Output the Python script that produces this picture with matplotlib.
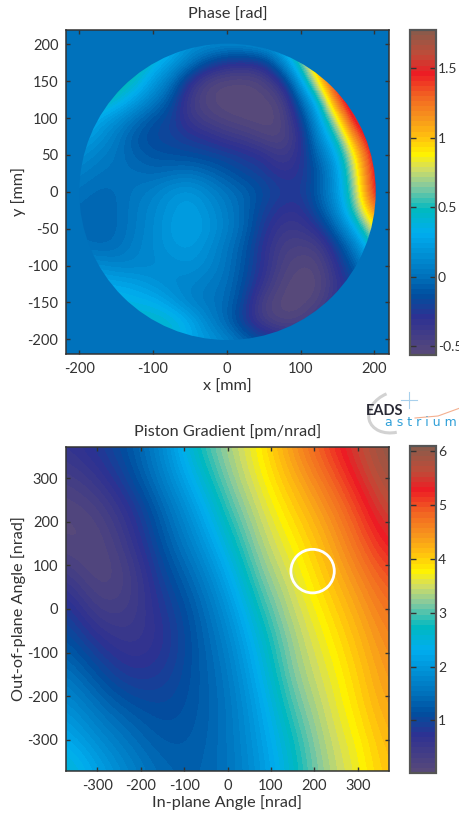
import numpy as np
import matplotlib
matplotlib.use("Agg")
import matplotlib.pyplot as plt
from matplotlib.colors import LinearSegmentedColormap
from matplotlib.patches import Circle, Arc

plt.rcParams['font.family'] = ['Lato', 'DejaVu Sans']
plt.rcParams['axes.unicode_minus'] = False

# phase map, estimated on a 25 mm grid, rows from y=+225 down to y=-225
phase_x = np.arange(-225, 226, 25)
phase_y = np.arange(225, -226, -25)
phase_values = [
    [.50, .50, .50, .50, .50, .45, .35, .25, .20, .20, .20, .25, .40, .80, 1.40, 1.77, 1.77, 1.77, 1.77],
    [.60, .60, .70, .70, .65, .55, .35, .17, .15, .12, .15, .20, .30, .75, 1.30, 1.77, 1.77, 1.77, 1.77],
    [.65, .65, .70, .70, .60, .38, .22, .05, -.15, -.27, -.30, -.25, .08, .55, 1.20, 1.70, 1.77, 1.77, 1.77],
    [.65, .65, .70, .62, .45, .22, .03, -.30, -.50, -.54, -.55, -.50, -.30, .22, .93, 1.60, 1.77, 1.77, 1.77],
    [.60, .60, .55, .42, .25, .08, -.12, -.42, -.53, -.56, -.56, -.55, -.50, -.05, .42, 1.35, 1.77, 1.77, 1.77],
    [.50, .45, .27, .17, .02, -.12, -.20, -.38, -.47, -.52, -.55, -.56, -.53, -.22, .22, .85, 1.65, 1.77, 1.77],
    [.35, .27, .18, .05, -.10, -.17, -.20, -.25, -.30, -.38, -.42, -.50, -.52, -.33, .12, .50, 1.25, 1.70, 1.77],
    [.20, .15, .08, .02, -.06, -.11, -.13, -.15, -.17, -.20, -.25, -.30, -.42, -.30, -.02, .30, .90, 1.58, 1.77],
    [.10, .07, .02, .00, .00, -.03, .00, .03, -.03, -.10, -.17, -.22, -.31, -.28, -.10, .20, .78, 1.50, 1.77],
    [.03, .01, -.03, -.02, .03, .08, .17, .20, .12, .02, -.05, -.15, -.22, -.25, -.07, .20, .68, 1.50, 1.77],
    [.00, -.03, -.04, -.03, .05, .12, .20, .25, .17, .07, -.05, -.20, -.30, -.31, -.12, .12, .60, 1.20, 1.60],
    [.00, -.03, -.04, -.03, .05, .13, .22, .26, .20, .08, -.05, -.25, -.38, -.38, -.28, -.02, .30, .85, 1.30],
    [.05, .00, -.03, -.01, .08, .13, .20, .22, .15, .03, -.10, -.30, -.44, -.47, -.45, -.20, .05, .50, 1.00],
    [.15, .15, .15, .10, .10, .12, .14, .17, .12, .02, -.12, -.30, -.47, -.54, -.52, -.30, -.05, .20, .50],
    [.30, .30, .30, .28, .25, .18, .12, .10, .05, .00, -.15, -.35, -.52, -.56, -.55, -.35, -.20, .00, .20],
    [.40, .40, .40, .38, .35, .33, .22, .08, .03, -.02, -.20, -.48, -.55, -.56, -.50, -.30, -.20, -.10, .00],
    [.45, .45, .45, .45, .45, .45, .42, .30, .10, -.05, -.25, -.45, -.53, -.50, -.35, -.25, -.20, -.10, .00],
    [.45, .45, .45, .45, .45, .45, .40, .30, .20, .10, -.05, -.15, -.25, -.25, -.20, -.20, -.15, -.10, .00],
    [.45, .45, .45, .45, .45, .45, .40, .30, .20, .15, .05, -.05, -.10, -.15, -.15, -.15, -.10, -.10, .00],
]
phase_ticks = [-0.5, 0, 0.5, 1, 1.5]
phase_tick_labels = ['-0.5', '0', '0.5', '1', '1.5']
phase_range = (-0.5625, 1.775)
disk_center = (1, 0)
disk_radius = 201

# piston gradient, estimated on a 75 nrad grid, rows from y=+375 down to y=-375
grad_x = np.arange(-375, 376, 75)
grad_y = np.arange(375, -376, -75)
grad_values = [
    [.60, .85, 1.20, 1.80, 2.76, 3.32, 3.79, 4.46, 5.05, 5.60, 6.10],
    [.30, .55, 1.05, 1.65, 2.40, 3.17, 3.68, 4.20, 4.75, 5.36, 5.95],
    [.08, .20, .68, 1.35, 2.03, 2.90, 3.50, 3.95, 4.43, 5.05, 5.70],
    [.10, .05, .50, 1.20, 1.75, 2.55, 3.35, 3.75, 4.20, 4.80, 5.40],
    [.50, .05, .25, 1.00, 1.45, 2.20, 3.13, 3.58, 4.03, 4.53, 5.05],
    [.95, .30, .35, .80, 1.25, 1.90, 2.83, 3.45, 3.85, 4.30, 4.80],
    [1.25, .75, .50, .68, 1.20, 1.68, 2.55, 3.30, 3.70, 4.13, 4.62],
    [1.60, 1.15, .75, .85, 1.20, 1.55, 2.35, 3.20, 3.58, 4.00, 4.50],
    [1.95, 1.50, 1.20, 1.05, 1.20, 1.50, 2.15, 3.00, 3.48, 3.90, 4.38],
    [2.30, 1.85, 1.50, 1.20, 1.25, 1.50, 2.05, 2.75, 3.40, 3.75, 4.25],
    [2.70, 2.20, 1.75, 1.40, 1.30, 1.50, 1.95, 2.63, 3.30, 3.65, 4.15],
]
grad_ticks = [1, 2, 3, 4, 5, 6]
grad_range = (0.02, 6.1)
marker_center = (196, 87)
marker_radius = 50

# colormap
cmap_stops = [
    (0.0, '#57497a'), (0.108, '#2e3192'), (0.18, '#004f9f'), (0.24, '#0072bc'),
    (0.374, '#00aeef'), (0.446, '#00b9c0'), (0.518, '#84c9a0'), (0.575, '#d4de60'),
    (0.62, '#fff200'), (0.672, '#ffc20e'), (0.733, '#f7941d'), (0.80, '#f26522'),
    (0.872, '#ed1c24'), (0.93, '#bf4c38'), (1.0, '#8c5a4a'),
]
cmap = LinearSegmentedColormap.from_list('eads', cmap_stops, N=64)

W, H = 460, 816
dark = '#333333'


def px_axes(x0, y0, x1, y1):
    return fig.add_axes([x0 / W, 1 - y1 / H, (x1 - x0) / W, (y1 - y0) / H])


def field(ax, values, xs, ys, vrange):
    dx = abs(xs[1] - xs[0]) / 2
    dy = abs(ys[1] - ys[0]) / 2
    return ax.imshow(values, cmap=cmap, vmin=vrange[0], vmax=vrange[1], aspect='auto',
                     interpolation='bicubic', interpolation_stage='data',
                     extent=(xs[0] - dx, xs[-1] + dx, ys[-1] - dy, ys[0] + dy))


def style(ax):
    ax.tick_params(direction='in', top=True, right=True, length=3, width=1,
                   color=dark, labelcolor=dark, labelsize=10.5, pad=5.5)
    for s in ax.spines.values():
        s.set_color(dark)
        s.set_linewidth(1.1)


def colorbar(im, cax, ticks, labels=None):
    cb = fig.colorbar(im, cax=cax, ticks=ticks)
    cb.outline.set_edgecolor('#555555')
    cb.outline.set_linewidth(1.6)
    cax.tick_params(direction='in', left=True, right=True, length=4, width=1,
                    color=dark, labelcolor=dark, labelsize=10, pad=1.5)
    if labels:
        cb.set_ticklabels(labels)


fig = plt.figure(figsize=(W / 100, H / 100), dpi=100)

ax1 = px_axes(66, 30, 389, 354)
ax1.set_facecolor('#0072bc')
im1 = field(ax1, phase_values, phase_x, phase_y, phase_range)
disk = Circle(disk_center, disk_radius, transform=ax1.transData)
im1.set_clip_path(disk)
ax1.set_xlim(-218, 220)
ax1.set_ylim(-220, 219.5)
ax1.set_xticks(range(-200, 201, 100))
ax1.set_yticks(range(-200, 201, 50))
ax1.set_title('Phase [rad]', fontsize=11.7, color=dark, pad=8)
ax1.set_xlabel('x [mm]', fontsize=11.7, color=dark, labelpad=3)
ax1.set_ylabel('y [mm]', fontsize=11.7, color=dark, labelpad=1)
style(ax1)
colorbar(im1, px_axes(410, 30, 436, 355), phase_ticks, phase_tick_labels)

ax2 = px_axes(66, 447, 389, 771)
im2 = field(ax2, grad_values, grad_x, grad_y, grad_range)
ax2.add_patch(Circle(marker_center, marker_radius, fill=False, ec='white', lw=2))
ax2.set_xlim(-372, 372)
ax2.set_ylim(-372, 372)
ax2.set_xticks(range(-300, 301, 100))
ax2.set_yticks(range(-300, 301, 100))
ax2.set_title('Piston Gradient [pm/nrad]', fontsize=11.7, color=dark, pad=8)
ax2.set_xlabel('In-plane Angle [nrad]', fontsize=11.7, color=dark, labelpad=2)
ax2.set_ylabel('Out-of-plane Angle [nrad]', fontsize=11.7, color=dark, labelpad=1)
style(ax2)
colorbar(im2, px_axes(410, 446, 436, 773), grad_ticks)

# logo, drawn in pixel coordinates of the figure
logo = fig.add_axes([0, 0, 1, 1], facecolor='none')
logo.set_xlim(0, W)
logo.set_ylim(H, 0)
logo.axis('off')
logo.add_patch(Arc((395, 412), 54, 40, angle=-20, theta1=105, theta2=265, color='#d2d2d2', lw=2.2))
logo.plot([415, 438, 460], [418, 416, 408], color='#f4b090', lw=0.8)
logo.plot([409, 409], [392, 408], color='#a8d0ec', lw=0.8)
logo.plot([401, 417], [400, 400], color='#a8d0ec', lw=0.8)
logo.text(366, 411, 'EADS', fontsize=10.5, fontweight='bold', color='#2a2a35', va='center', ha='left')
logo.text(385, 422, 'a s t r i u m', fontsize=9, color='#30a0d8', va='center', ha='left',
          family='DejaVu Sans')

fig.savefig('out.png', dpi=100)
